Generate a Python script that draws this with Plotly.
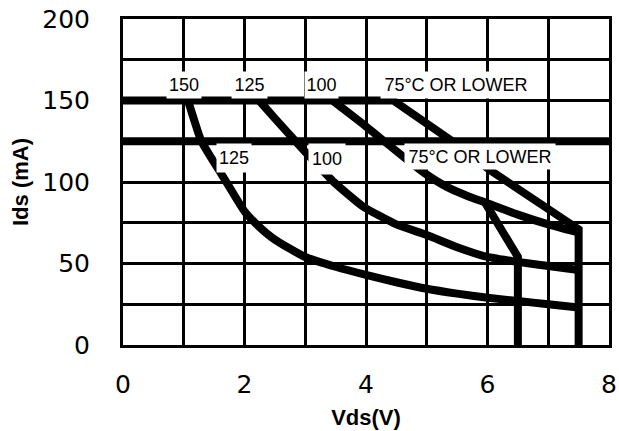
import plotly.graph_objects as go

# ---- data (Vds in V, Ids in mA) ----
# curve labelled "150" (upper set) / "125" (lower set)
vds_c1 = [1.07, 1.18, 1.29, 1.45, 1.6, 1.75, 2.0, 2.2, 2.45, 2.75, 3.0, 3.5, 4.0, 4.5, 5.0, 5.5, 6.0, 6.5, 7.0, 7.5]
ids_c1 = [150, 137, 125, 115, 106, 97, 82, 74, 66, 59, 54, 48, 43, 38.5, 34.5, 31.5, 29, 27, 25, 23]

# curve labelled "125" (upper) / "100" (lower)
vds_c2 = [2.24, 2.5, 2.84, 3.15, 3.47, 3.95, 4.5, 5.0, 5.5, 6.0, 6.5, 7.0, 7.5]
ids_c2 = [150, 139, 125, 112.5, 100, 85, 74, 67.5, 60, 54, 51, 48.5, 46]

# curve labelled "100" (upper) / "75°C OR LOWER" (lower)
vds_c3 = [3.45, 3.9, 4.3, 4.7, 5.0, 5.33, 5.7, 6.0, 6.5, 7.0, 7.5]
ids_c3 = [150, 137, 125, 113, 104.5, 97, 91, 87, 80, 74, 69]

# branch dropping to the 6.5 V limit
vds_c3b = [5.95, 6.5, 6.5]
ids_c3b = [88, 54, 0]

# curve labelled "75°C OR LOWER" (upper) with 150 mA cap and 7.5 V limit
vds_c4 = [0, 4.45, 5.42, 6.05, 7.5, 7.5]
ids_c4 = [150, 150, 125, 107, 71, 0]

# 125 mA cap of the lower set
vds_cap125 = [0, 8]
ids_cap125 = [125, 125]

x_ticks = [0, 2, 4, 6, 8]
y_ticks = [0, 50, 100, 150, 200]

upper_labels = ["150", "125", "100", "75°C OR LOWER"]
upper_label_x = [1.01, 2.09, 3.26, 5.48]
upper_label_w = [34, 35, 33, 150]
lower_labels = ["125", "100", "75°C OR LOWER"]
lower_label_x = [1.82, 3.36, 5.87]
lower_label_w = [34, 36, 150]
lower_label_shift = [-17, -18, -15]
lower_label_h = [28, 30, 25]

LW = 8
fig = go.Figure()
for xs, ys, shp in [(vds_c1, ids_c1, "spline"), (vds_c2, ids_c2, "spline"),
                    (vds_c3, ids_c3, "spline"), (vds_c3b, ids_c3b, "linear"),
                    (vds_c4, ids_c4, "linear"), (vds_cap125, ids_cap125, "linear")]:
    fig.add_trace(go.Scatter(x=xs, y=ys, mode="lines",
                             line=dict(color="black", width=LW, shape=shp, smoothing=0.5),
                             showlegend=False, hoverinfo="skip"))

label_font = dict(family="Liberation Sans, Arial", size=18, color="black")
anns = []
for t, x, w in zip(upper_labels, upper_label_x, upper_label_w):
    anns.append(dict(text=t, x=x, y=150, xref="x", yref="y", yshift=16,
                     showarrow=False, bgcolor="white", width=w, height=26,
                     borderpad=0, font=label_font, xanchor="center", yanchor="middle"))
for t, x, w, s, h in zip(lower_labels, lower_label_x, lower_label_w, lower_label_shift, lower_label_h):
    anns.append(dict(text=t, x=x, y=125, xref="x", yref="y", yshift=s,
                     showarrow=False, bgcolor="white", width=w, height=h,
                     borderpad=0, font=label_font, xanchor="center", yanchor="middle"))

tick_font = dict(family="DejaVu Sans", size=25, color="black")
title_font = dict(family="Liberation Sans, Arial", size=22, color="black")

fig.update_layout(
    width=619, height=431,
    margin=dict(l=123, r=10, t=19, b=86),
    paper_bgcolor="white", plot_bgcolor="white",
    annotations=anns,
    xaxis=dict(range=[0, 8], tickvals=x_ticks, ticktext=[str(v) for v in x_ticks],
               showgrid=True, gridcolor="black", gridwidth=3,
               minor=dict(dtick=1, showgrid=True, gridcolor="black", gridwidth=3),
               showline=True, linecolor="black", linewidth=3, mirror=True,
               zeroline=False, ticks="", ticklabelstandoff=15, tickfont=tick_font,
               ticklabeloverflow="allow", automargin=False,
               title=dict(text="<b>Vds(V)</b>", font=title_font, standoff=12)),
    yaxis=dict(range=[0, 200], tickvals=y_ticks, ticktext=[str(v) for v in y_ticks],
               showgrid=True, gridcolor="black", gridwidth=3,
               minor=dict(dtick=25, showgrid=True, gridcolor="black", gridwidth=3),
               showline=True, linecolor="black", linewidth=3, mirror=True,
               zeroline=False, ticks="", ticklabelstandoff=25, tickfont=tick_font,
               ticklabeloverflow="allow", automargin=False,
               title=dict(text="<b>Ids (mA)</b>", font=title_font, standoff=8)),
)

# remove the default 8 px page margin so the figure fills the window exactly
fig.write_html("out.html", config={"displayModeBar": False},
               post_script="document.body.style.margin='0px';")
